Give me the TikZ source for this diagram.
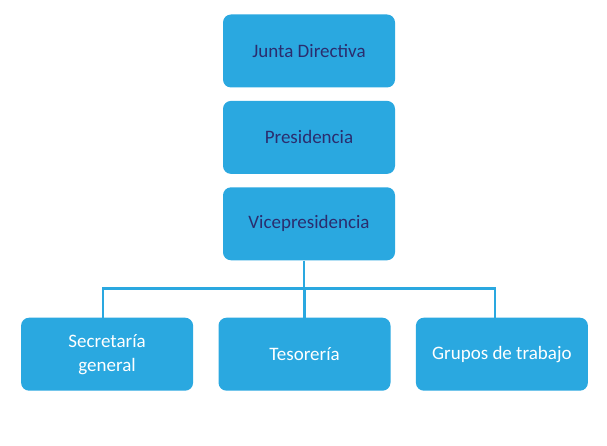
\documentclass[tikz,border=0pt]{standalone}
\usepackage{fontspec}
\setmainfont{Carlito}
\usepackage{xcolor}
\usetikzlibrary{positioning}
\definecolor{cajaazul}{RGB}{42,168,224}
\definecolor{textonavy}{RGB}{43,45,110}

\begin{document}
\begin{tikzpicture}[x=1pt, y=-1pt, node distance=13pt,
    cargo/.style={rectangle, rounded corners=8pt, minimum width=172pt, minimum height=73pt, align=center, fill=cajaazul, font=\fontsize{19}{24}\selectfont},
    arriba/.style={cargo, text=textonavy},
    abajo/.style={cargo, text=white},
    enlace/.style={draw=cajaazul, line width=2.6pt}]
    \useasboundingbox (0,0) rectangle (607,446);

    % cargos superiores
    \node [arriba] (junta) at (309,51) {Junta Directiva};
    \node [arriba, below=of junta] (presi) {Presidencia};
    \node [arriba, below=of presi] (vice) {Vicepresidencia};

    % cargos inferiores
    \node [abajo, below=57pt of vice, xshift=-4.5pt] (teso) {Tesorería};
    \node [abajo, left=25pt of teso] (secre) {Secretaría\\general};
    \node [abajo, right=25pt of teso] (grupos) {Grupos de trabajo};

    % conexiones
    \coordinate [below=28pt of vice.south, xshift=-5pt] (barra);
    \draw [enlace] ([xshift=-5pt]vice.south) -- (barra);
    \draw [enlace] ([xshift=-4pt]secre.north) |- (barra) -| ([xshift=-7pt]grupos.north);
    \draw [enlace] (teso.north) -- (teso.north |- barra);
\end{tikzpicture}
\end{document}
